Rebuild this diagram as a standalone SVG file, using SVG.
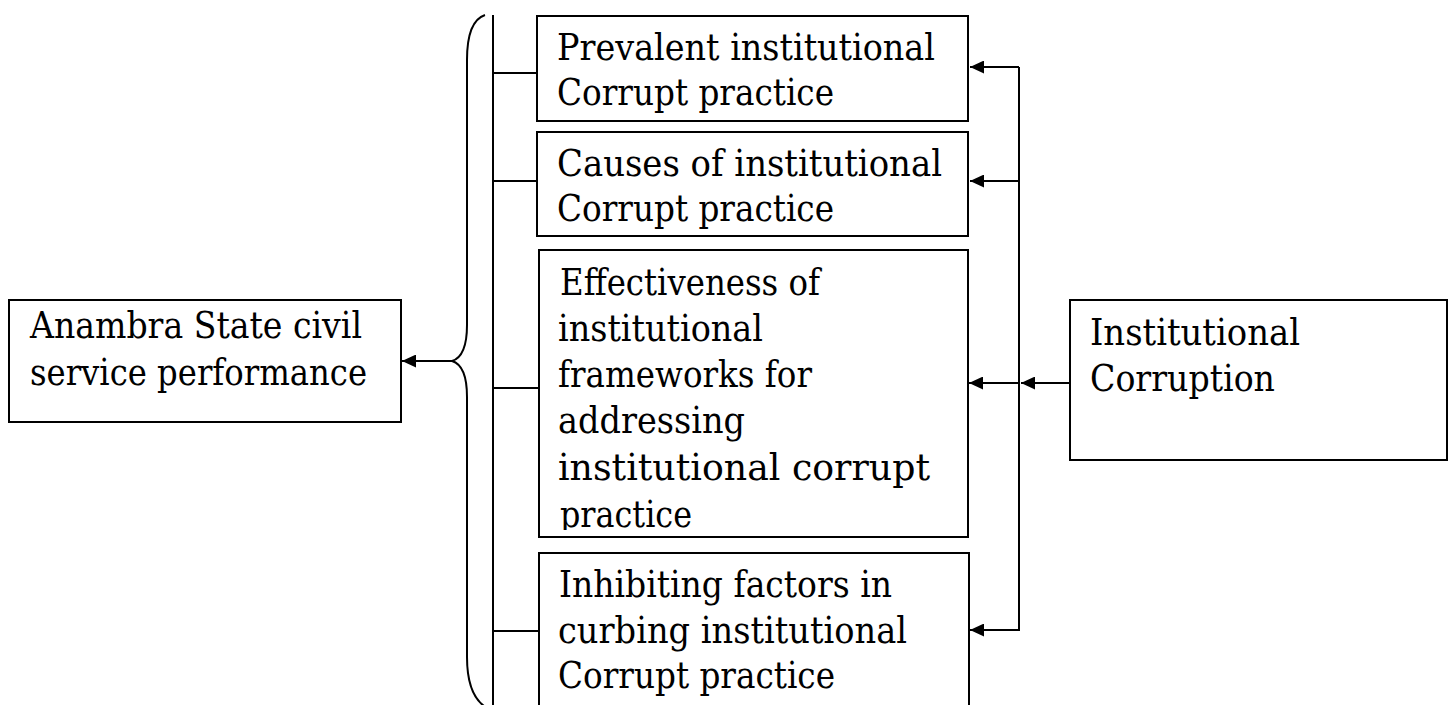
<svg xmlns="http://www.w3.org/2000/svg" width="1451" height="705" viewBox="0 0 1451 705">
<style>
.box{fill:#fff;stroke:#000;stroke-width:2}
.t{font-family:"DejaVu Serif","Liberation Serif",serif;font-size:37px;fill:#000}
.ln{stroke:#000;stroke-width:2;fill:none}
</style>
<defs>
<marker id="ah" markerUnits="userSpaceOnUse" markerWidth="15" markerHeight="13" refX="14" refY="6.5" orient="auto">
<path d="M0,0 L14,6.5 L0,13 z" fill="#000"/>
</marker>
<clipPath id="c3"><rect x="539" y="250" width="429" height="280"/></clipPath>
</defs>
<rect width="1451" height="705" fill="#fff"/>
<g id="connectors">
<path class="ln" d="M485,15 C470,20 467,40 467,60 L467,325 C467,345 462,358 452,361 C462,364 467,377 467,397 L467,657 C467,680 472,697 484,706"/>
<line class="ln" x1="452" y1="361" x2="402" y2="361" marker-end="url(#ah)"/>
<line class="ln" x1="493" y1="15" x2="493" y2="705"/>
<line class="ln" x1="493" y1="73" x2="537" y2="73"/>
<line class="ln" x1="493" y1="181" x2="537" y2="181"/>
<line class="ln" x1="493" y1="388" x2="539" y2="388"/>
<line class="ln" x1="493" y1="631" x2="539" y2="631"/>
<line class="ln" x1="1019" y1="67" x2="1019" y2="631"/>
<line class="ln" x1="1019" y1="67" x2="970" y2="67" marker-end="url(#ah)"/>
<line class="ln" x1="1019" y1="181" x2="970" y2="181" marker-end="url(#ah)"/>
<line class="ln" x1="1019" y1="383" x2="969" y2="383" marker-end="url(#ah)"/>
<line class="ln" x1="1019" y1="630" x2="970" y2="630" marker-end="url(#ah)"/>
<line class="ln" x1="1070" y1="383" x2="1021" y2="383" marker-end="url(#ah)"/>
</g>
<g id="n-anambra">
<rect class="box" x="9" y="300" width="392" height="122"/>
<text class="t" x="30" y="338" textLength="332" lengthAdjust="spacingAndGlyphs">Anambra State civil</text>
<text class="t" x="30" y="385" textLength="337" lengthAdjust="spacingAndGlyphs">service performance</text>
</g>
<g id="n-prevalent">
<rect class="box" x="537" y="16" width="431" height="105"/>
<text class="t" x="557" y="60" textLength="378" lengthAdjust="spacingAndGlyphs">Prevalent institutional</text>
<text class="t" x="557" y="105" textLength="277" lengthAdjust="spacingAndGlyphs">Corrupt practice</text>
</g>
<g id="n-causes">
<rect class="box" x="537" y="132" width="431" height="104"/>
<text class="t" x="557" y="176" textLength="385" lengthAdjust="spacingAndGlyphs">Causes of institutional</text>
<text class="t" x="557" y="221" textLength="277" lengthAdjust="spacingAndGlyphs">Corrupt practice</text>
</g>
<g id="n-effectiveness">
<rect class="box" x="539" y="250" width="429" height="287"/>
<g clip-path="url(#c3)">
<text class="t" x="560" y="295" textLength="260" lengthAdjust="spacingAndGlyphs">Effectiveness of</text>
<text class="t" x="558" y="341" textLength="205" lengthAdjust="spacingAndGlyphs">institutional</text>
<text class="t" x="558" y="387" textLength="254" lengthAdjust="spacingAndGlyphs">frameworks for</text>
<text class="t" x="558" y="433" textLength="187" lengthAdjust="spacingAndGlyphs">addressing</text>
<text class="t" x="558" y="480" textLength="372" lengthAdjust="spacingAndGlyphs">institutional corrupt</text>
<text class="t" x="560" y="527" textLength="132" lengthAdjust="spacingAndGlyphs">practice</text>
</g>
</g>
<g id="n-inhibiting">
<rect class="box" x="539" y="553" width="430" height="160"/>
<text class="t" x="559" y="597" textLength="333" lengthAdjust="spacingAndGlyphs">Inhibiting factors in</text>
<text class="t" x="558" y="643" textLength="349" lengthAdjust="spacingAndGlyphs">curbing institutional</text>
<text class="t" x="558" y="688" textLength="277" lengthAdjust="spacingAndGlyphs">Corrupt practice</text>
</g>
<g id="n-institutional">
<rect class="box" x="1070" y="300" width="377" height="160"/>
<text class="t" x="1090" y="345" textLength="210" lengthAdjust="spacingAndGlyphs">Institutional</text>
<text class="t" x="1090" y="391" textLength="185" lengthAdjust="spacingAndGlyphs">Corruption</text>
</g>
</svg>
